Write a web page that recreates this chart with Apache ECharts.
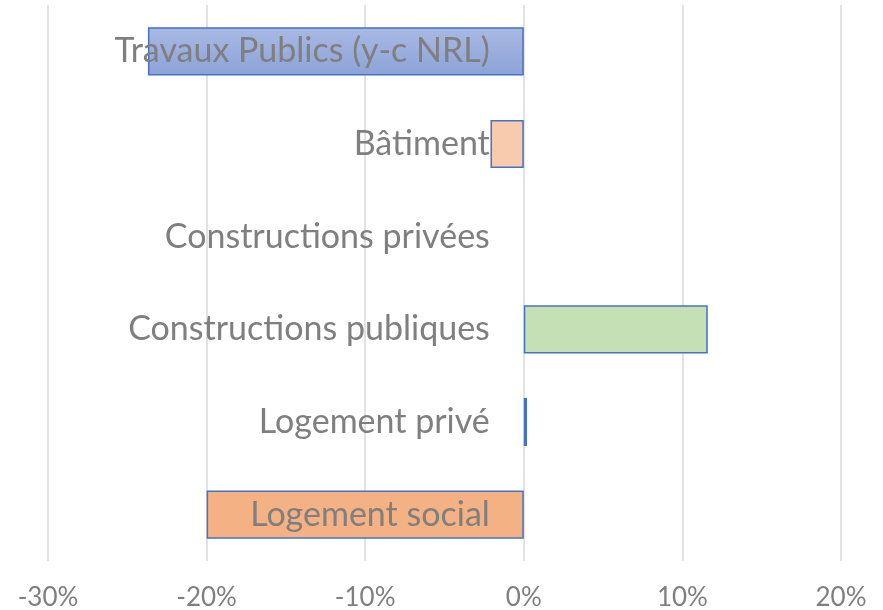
<!DOCTYPE html>
<html>
<head>
<meta charset="utf-8">
<script src="https://cdn.jsdelivr.net/npm/echarts@6/dist/echarts.min.js"></script>
<style>
  html, body { margin: 0; padding: 0; background: #fff; }
  #chart { width: 883px; height: 610px; }
</style>
</head>
<body>
<div id="chart"></div>
<script>
// catégories, du bas vers le haut (axe category inversé par ECharts)
const categories = [
  "Logement social",
  "Logement privé",
  "Constructions publiques",
  "Constructions privées",
  "Bâtiment",
  "Travaux Publics (y-c NRL)"
];
// évolution en %
const values = [-0.200, 0.002, 0.116, 0, -0.021, -0.237];
const fills = ["#F4B183", "#4472C4", "#C5E0B4", "#FFFFFF", "#F8CBAD", "gradient"];
const xTicks = { min: -0.3, max: 0.2, interval: 0.1 };

const textColor = "#7f7f7f";
const font = "Lato";

const gridLeft = 48, gridRight = 42;
const plotWidth = 883 - gridLeft - gridRight;
// l'axe des catégories passe par 0 %
const zeroOffset = -plotWidth * (0 - xTicks.min) / (xTicks.max - xTicks.min);

const chart = echarts.init(document.getElementById("chart"));

const data = values.map((v, i) => {
  let color = fills[i];
  if (color === "gradient") {
    color = new echarts.graphic.LinearGradient(0, 0, 0, 1, [
      { offset: 0, color: "#A9B9E3" },
      { offset: 1, color: "#8CA3D8" }
    ]);
  }
  return {
    value: v,
    itemStyle: { color: color, borderWidth: v === 0 ? 0 : 1.5 }
  };
});

chart.setOption({
  animation: false,
  grid: { left: gridLeft, right: gridRight, top: 5, bottom: 49, outerBoundsMode: "none", containLabel: false },
  xAxis: {
    type: "value",
    min: xTicks.min,
    max: xTicks.max,
    interval: xTicks.interval,
    axisLine: { show: false },
    axisTick: { show: false },
    splitLine: { lineStyle: { color: "#d9d9d9", width: 1.5 } },
    axisLabel: {
      color: textColor,
      fontFamily: font,
      fontSize: 26,
      margin: 24,
      formatter: (v) => Math.round(v * 100) + "%"
    }
  },
  yAxis: {
    type: "category",
    data: categories,
    z: 5,
    offset: zeroOffset,
    axisLine: { show: false },
    axisTick: { show: false },
    axisLabel: {
      color: textColor,
      fontFamily: font,
      fontSize: 34,
      margin: 34,
      padding: [10, 0, 0, 0]
    }
  },
  series: [{
    type: "bar",
    data: data,
    barCategoryGap: "48%",
    itemStyle: { borderColor: "#4472C4" }
  }]
});
</script>
</body>
</html>
